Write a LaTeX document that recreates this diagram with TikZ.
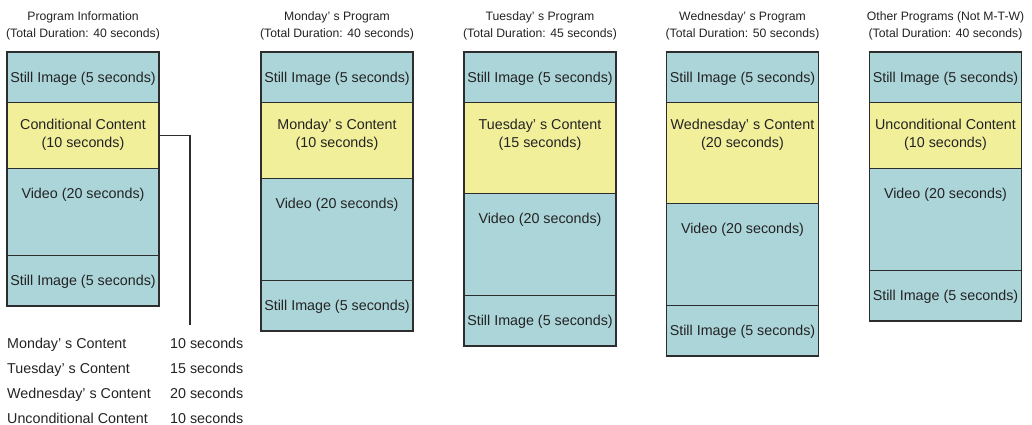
\documentclass[tikz,border=0pt]{standalone}
\usepackage{fontspec}
\setmainfont{Liberation Sans}
\usepackage{xcolor}
\usetikzlibrary{positioning}

\definecolor{stillblue}{RGB}{172,213,217}
\definecolor{condyellow}{RGB}{242,239,155}
\definecolor{edgegray}{RGB}{45,45,45}
\definecolor{txtgray}{RGB}{35,35,35}

\begin{document}
\begin{tikzpicture}[x=1pt,y=-1pt,
    blk/.style={
      draw=edgegray,line width=1.8pt,outer sep=0pt,inner sep=0pt,
      minimum width=152pt,text=txtgray,align=center,
      font=\fontsize{14.3}{18}\selectfont},
    still/.style={blk,fill=stillblue,minimum height=50.5pt,text depth=0pt},
    vid/.style={blk,fill=stillblue},
    cont/.style={blk,fill=condyellow},
    intext/.style={anchor=north,inner sep=0pt,text=txtgray,align=center,
      font=\fontsize{14.3}{18}\selectfont},
    ttl/.style={anchor=north,inner sep=0pt,align=center,text=txtgray,
      font=\fontsize{12.2}{17}\selectfont},
    lgd/.style={anchor=base west,inner sep=0pt,text=txtgray,
      font=\fontsize{14.3}{18}\selectfont},
    conn/.style={draw=edgegray,line width=1.8pt}
]
\useasboundingbox (0,0) rectangle (1032,424);

% program information
\node[ttl] (t1) at (83,11.5) {Program Information\\(Total Duration: 40 seconds)};
\node[still,anchor=north] (p1) at (83,52) {Still Image (5 seconds)};
\node[cont,minimum height=66pt,below=0pt of p1,
      label={[intext,yshift=-16.5pt]north:{Conditional Content\\(10 seconds)}}] (p2) {};
\node[vid,minimum height=87pt,below=0pt of p2,
      label={[intext,yshift=-19.5pt]north:{Video (20 seconds)}}] (p3) {};
\node[still,below=0pt of p3] (p4) {Still Image (5 seconds)};

% monday
\node[ttl] (t2) at (337,11.5) {Monday’ s Program\\(Total Duration: 40 seconds)};
\node[still,anchor=north] (m1) at (337,52) {Still Image (5 seconds)};
\node[cont,minimum height=76pt,below=0pt of m1,
      label={[intext,yshift=-16.5pt]north:{Monday’ s Content\\(10 seconds)}}] (m2) {};
\node[vid,minimum height=102pt,below=0pt of m2,
      label={[intext,yshift=-19.5pt]north:{Video (20 seconds)}}] (m3) {};
\node[still,below=0pt of m3] (m4) {Still Image (5 seconds)};

% tuesday
\node[ttl] (t3) at (540,11.5) {Tuesday’ s Program\\(Total Duration: 45 seconds)};
\node[still,anchor=north] (u1) at (540,52) {Still Image (5 seconds)};
\node[cont,minimum height=91pt,below=0pt of u1,
      label={[intext,yshift=-16.5pt]north:{Tuesday’ s Content\\(15 seconds)}}] (u2) {};
\node[vid,minimum height=102pt,below=0pt of u2,
      label={[intext,yshift=-19.5pt]north:{Video (20 seconds)}}] (u3) {};
\node[still,below=0pt of u3] (u4) {Still Image (5 seconds)};

% wednesday
\node[ttl] (t4) at (742.5,11.5) {Wednesday’ s Program\\(Total Duration: 50 seconds)};
\node[still,anchor=north] (w1) at (742.5,52) {Still Image (5 seconds)};
\node[cont,minimum height=101pt,below=0pt of w1,
      label={[intext,yshift=-16.5pt]north:{Wednesday’ s Content\\(20 seconds)}}] (w2) {};
\node[vid,minimum height=102pt,below=0pt of w2,
      label={[intext,yshift=-19.5pt]north:{Video (20 seconds)}}] (w3) {};
\node[still,below=0pt of w3] (w4) {Still Image (5 seconds)};

% other programs
\node[ttl] (t5) at (945.5,11.5) {Other Programs (Not M-T-W)\\(Total Duration: 40 seconds)};
\node[still,anchor=north] (o1) at (945.5,52) {Still Image (5 seconds)};
\node[cont,minimum height=66pt,below=0pt of o1,
      label={[intext,yshift=-16.5pt]north:{Unconditional Content\\(10 seconds)}}] (o2) {};
\node[vid,minimum height=102pt,below=0pt of o2,
      label={[intext,yshift=-19.5pt]north:{Video (20 seconds)}}] (o3) {};
\node[still,below=0pt of o3] (o4) {Still Image (5 seconds)};

% branch list
\coordinate (cend) at (190,325);
\draw[conn] (p2.east) -| (cend);

\node[lgd] (l1) at (7,348) {Monday’ s Content};
\node[lgd] (l2) at (7,373) {Tuesday’ s Content};
\node[lgd] (l3) at (7,398) {Wednesday’ s Content};
\node[lgd] (l4) at (7,423) {Unconditional Content};
\node[lgd] (d1) at (170,348) {10 seconds};
\node[lgd] (d2) at (170,373) {15 seconds};
\node[lgd] (d3) at (170,398) {20 seconds};
\node[lgd] (d4) at (170,423) {10 seconds};
\end{tikzpicture}
\end{document}
